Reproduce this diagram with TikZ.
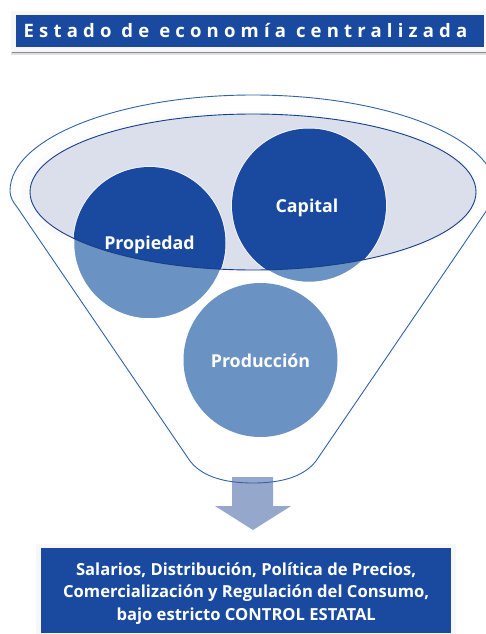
\documentclass[tikz,border=0pt]{standalone}
\usepackage{fontspec}
\setmainfont{Open Sans}
\definecolor{dkb}{HTML}{1A4A9F}
\definecolor{ltb}{HTML}{6A92C2}
\definecolor{ellf}{HTML}{DADFEB}
\definecolor{lnb}{HTML}{2F62A8}
\definecolor{arr}{HTML}{95A8CB}
\tikzset{x=1pt,y=-1pt,
 lbl/.style={text=white,font=\fontsize{17.8}{20}\selectfont\bfseries,inner sep=0pt},
 bar/.style={fill=dkb,text=white,inner sep=0pt}}
\begin{document}
\begin{tikzpicture}
\useasboundingbox (0,0) rectangle (486,634);
\clip (0,0) rectangle (486,634);
% title
\fill[black!12] (11,20) rectangle (486,55);
\fill[black!45] (12,20) rectangle (486,53.5);
\fill[black!3] (11,11) rectangle (486,52);
\node[bar,minimum width=468pt,minimum height=32.5pt,anchor=north west] (title) at (16,14.7) {};
\node[text=white,font=\fontsize{18.5}{20}\selectfont\bfseries,anchor=west,inner sep=0pt] (titletext) at (23.5,31) {\addfontfeature{LetterSpace=28}Estado de economía centralizada};
% arrow
\fill[arr] (232,477) -- (273,477) -- (273,506) -- (291,506) -- (253,530) -- (215,506) -- (232,506) -- cycle;
% funnel
\draw[lnb,line width=.9pt] (190,461) -- (17,207) .. controls (13,202) and (10,197) .. (10,191)
  .. controls (10,138) and (119,95) .. (253,95)
  .. controls (387,95) and (496,138) .. (496,191)
  .. controls (496,197) and (493,202) .. (489,207) -- (316,461)
  .. controls (302,479) and (276,483) .. (253,483)
  .. controls (230,483) and (204,479) .. cycle;
\fill[white!88!ellf] (250,192) ellipse [x radius=229,y radius=81];
% circles light
\fill[ltb] (260.5,360) circle (77);
\node[lbl] (prod) at (260.5,361) {Producción};
\fill[ellf] (253,192) ellipse [x radius=223,y radius=78];
\draw[white,line width=1.5pt,fill=ltb] (149.5,243) circle (76);
\draw[white,line width=1.5pt,fill=ltb] (309,205.5) circle (77);
\begin{scope}
\clip (253,192) ellipse [x radius=223,y radius=78];
\fill[dkb] (149.5,243) circle (76);
\fill[dkb] (309,205.5) circle (77);
\end{scope}
\draw[dkb!85!black,line width=.9pt] (253,192) ellipse [x radius=223,y radius=78];
\node[lbl] (prop) at (149.5,245) {Propiedad};
\node[lbl] (cap) at (307,207.5) {Capital};
% bottom box
\fill[black!3] (36,544) rectangle (456,634);
\node[bar,minimum width=410pt,minimum height=85pt,anchor=north west,align=center,font=\fontsize{16.6}{22.5}\selectfont\bfseries] (box) at (41,548)
 {\rule{0pt}{18pt}Salarios, Distribución, Política de Precios,\\Comercialización y Regulación del Consumo,\\bajo estricto CONTROL ESTATAL};
\end{tikzpicture}
\end{document}
